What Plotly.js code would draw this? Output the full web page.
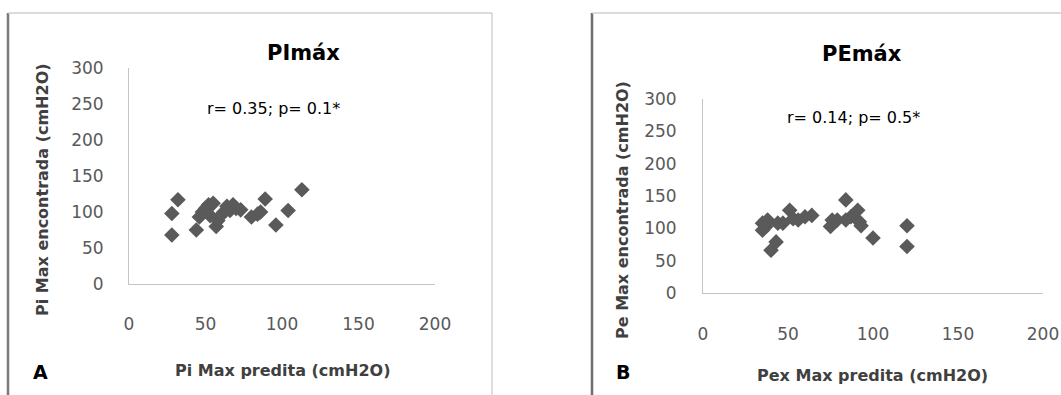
<!DOCTYPE html>
<html>
<head>
<meta charset="utf-8">
<script src="https://cdn.plot.ly/plotly-3.0.1.min.js"></script>
<style>html,body{margin:0;padding:0;background:#fff;}#chart{width:1061px;height:395px;}</style>
</head>
<body>
<div id="chart"></div>
<script>
// Panel A: PImáx
const piPredita = [28, 28, 32, 44, 46, 48, 50, 52, 53, 55, 57, 58, 60, 62, 64, 66, 68, 70, 73, 80, 84, 86, 89, 96, 104, 113];
const piEncontrada = [68, 98, 117, 75, 93, 100, 105, 110, 95, 112, 80, 88, 95, 100, 108, 102, 110, 105, 103, 93, 97, 100, 118, 82, 102, 131];
// Panel B: PEmáx
const pePredita = [35, 35, 37, 38, 40, 43, 44, 47, 51, 53, 56, 60, 64, 75, 76, 79, 84, 84, 87, 91, 92, 93, 100, 120, 120];
const peEncontrada = [97, 108, 103, 113, 66, 79, 108, 108, 128, 115, 113, 118, 120, 103, 113, 113, 144, 113, 118, 128, 110, 104, 85, 104, 72];

const xTicks = [0, 50, 100, 150, 200];
const yTicks = [0, 50, 100, 150, 200, 250, 300];

const titleA = 'PImáx', titleB = 'PEmáx';
const statA = 'r= 0.35; p= 0.1*', statB = 'r= 0.14; p= 0.5*';
const xTitleA = 'Pi Max predita (cmH2O)', yTitleA = 'Pi Max encontrada (cmH2O)';
const xTitleB = 'Pex Max predita (cmH2O)', yTitleB = 'Pe Max encontrada (cmH2O)';

const W = 1061, H = 395;
const px = v => v / W, py = v => 1 - v / H;

const markerStyle = {symbol: 'diamond', size: 12, color: '#5a5a5a', line: {width: 0}};

const traces = [
  {x: piPredita, y: piEncontrada, type: 'scatter', mode: 'markers', marker: markerStyle, xaxis: 'x', yaxis: 'y', hoverinfo: 'x+y'},
  {x: pePredita, y: peEncontrada, type: 'scatter', mode: 'markers', marker: markerStyle, xaxis: 'x2', yaxis: 'y2', hoverinfo: 'x+y'}
];

const tickFont = {family: 'DejaVu Sans', size: 17, color: '#595959'};
function xax(domain, tl) {
  return {domain: domain, range: [0, 200], tickvals: xTicks, ticktext: xTicks.map(String),
    showgrid: false, zeroline: false, showline: true, linecolor: '#c4c4c4', linewidth: 1,
    ticks: 'outside', ticklen: tl, tickcolor: 'rgba(0,0,0,0)', tickfont: tickFont, fixedrange: true};
}
function yax(domain, anchor, tl) {
  return {domain: domain, range: [0, 300], tickvals: yTicks, ticktext: yTicks.map(String), anchor: anchor,
    showgrid: false, zeroline: false, showline: true, linecolor: '#c4c4c4', linewidth: 1,
    ticks: 'outside', ticklen: tl, tickcolor: 'rgba(0,0,0,0)', tickfont: tickFont, fixedrange: true};
}

const bold = (size, color) => ({family: 'DejaVu Sans', size: size, color: color, weight: 'bold'});

function ann(text, x, y, font, angle) {
  return {text: text, x: px(x), y: py(y), xref: 'paper', yref: 'paper', showarrow: false,
    xanchor: 'center', yanchor: 'middle', font: font, textangle: angle || 0};
}

const layout = {
  width: W, height: H,
  margin: {l: 0, r: 0, t: 0, b: 0},
  paper_bgcolor: '#ffffff', plot_bgcolor: '#ffffff',
  showlegend: false,
  xaxis: Object.assign(xax([px(129), px(435)], 25), {anchor: 'y'}),
  yaxis: yax([py(284), py(68)], 'x', 21),
  xaxis2: Object.assign(xax([px(703), px(1043)], 26), {anchor: 'y2'}),
  yaxis2: yax([py(293), py(99)], 'x2', 22),
  annotations: [
    ann('<b>' + titleA + '</b>', 303, 53, bold(21, '#000000')),
    ann(statA, 273, 108, {family: 'DejaVu Sans', size: 16, color: '#000000'}),
    ann('<b>' + yTitleA + '</b>', 42, 190, bold(16, '#404040'), -90),
    ann('<b>' + xTitleA + '</b>', 282, 370, bold(16, '#404040')),
    ann('<b>A</b>', 40, 372, bold(19, '#000000')),
    ann('<b>' + titleB + '</b>', 862, 54, bold(21, '#000000')),
    ann(statB, 853, 117, {family: 'DejaVu Sans', size: 16, color: '#000000'}),
    ann('<b>' + yTitleB + '</b>', 623, 210, bold(16, '#404040'), -90),
    ann('<b>' + xTitleB + '</b>', 872, 375, bold(16, '#404040')),
    ann('<b>B</b>', 623, 372, bold(19, '#000000'))
  ],
  shapes: [
    {type: 'line', xref: 'paper', yref: 'paper', x0: px(8), x1: px(8), y0: py(13), y1: 0, line: {color: '#7a7a7a', width: 2.5}},
    {type: 'line', xref: 'paper', yref: 'paper', x0: px(8), x1: px(492), y0: py(13), y1: py(13), line: {color: '#cfcfcf', width: 1.5}},
    {type: 'line', xref: 'paper', yref: 'paper', x0: px(492), x1: px(492), y0: py(13), y1: 0, line: {color: '#bdbdbd', width: 1}},
    {type: 'line', xref: 'paper', yref: 'paper', x0: px(592), x1: px(592), y0: py(13), y1: 0, line: {color: '#6e6e6e', width: 2.5}},
    {type: 'line', xref: 'paper', yref: 'paper', x0: px(592), x1: 1, y0: py(13), y1: py(13), line: {color: '#cfcfcf', width: 1.5}}
  ]
};

Plotly.newPlot('chart', traces, layout, {displayModeBar: false, staticPlot: true});
</script>
</body>
</html>
